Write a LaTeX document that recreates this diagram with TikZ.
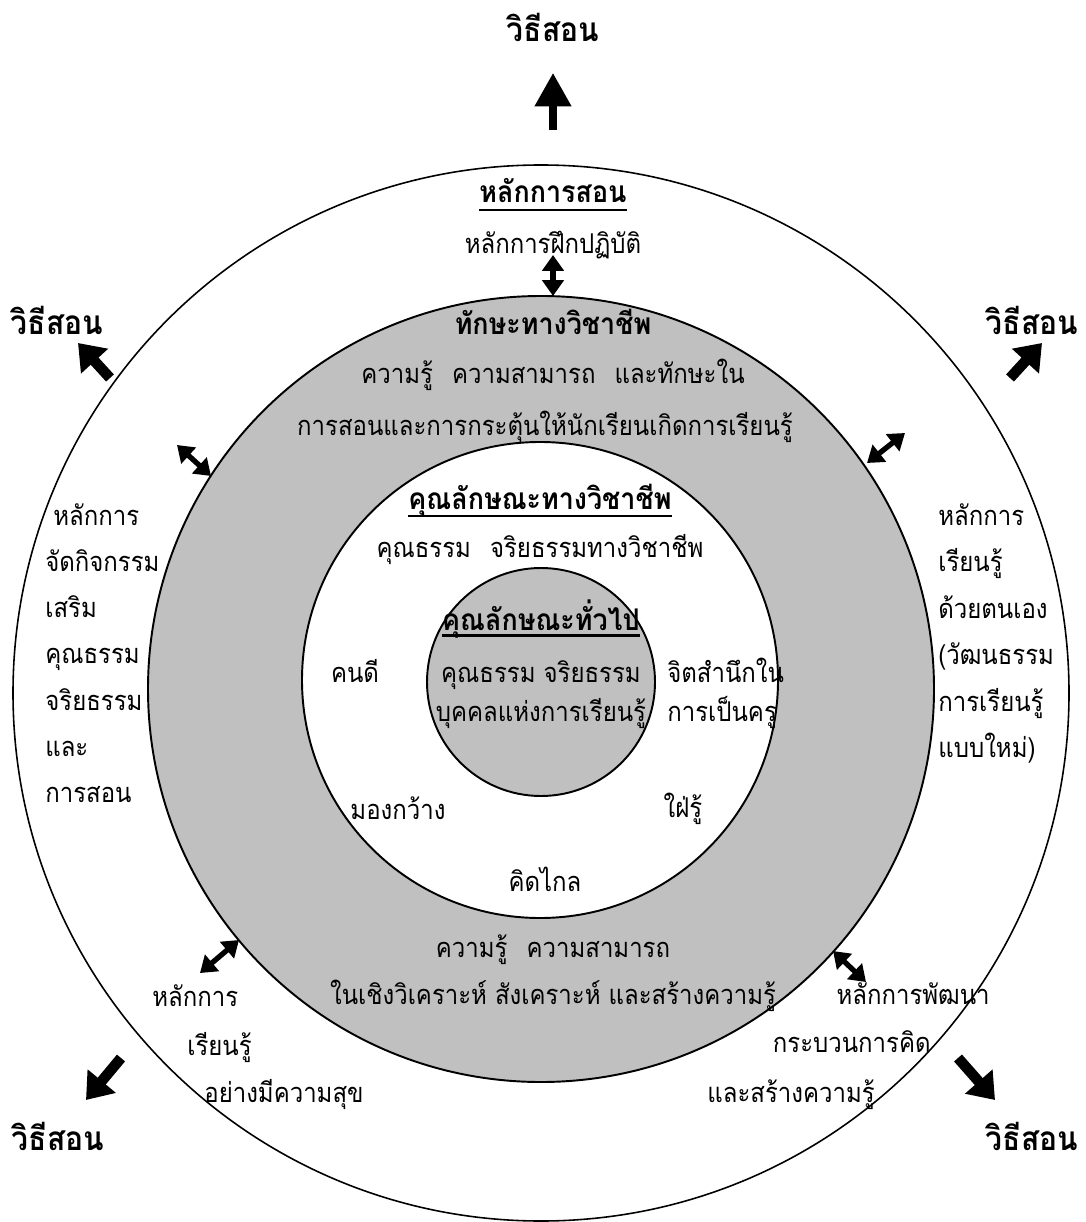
\documentclass[tikz,border=0pt]{standalone}
\usepackage{fontspec}
\newfontfamily\thaifont[Script=Thai, FakeStretch=0.88]{Loma}
\newfontfamily\thaibold[Script=Thai, FakeStretch=0.9]{Loma}
\usetikzlibrary{arrows.meta}
\definecolor{ringgray}{RGB}{192,192,192}
\newcommand{\gap}{\hspace{0.7em}}
\tikzset{
    txt/.style={font=\thaifont\fontsize{15.5}{18}\selectfont, inner sep=0pt},
    hd/.style={font=\thaibold\bfseries\fontsize{17}{20}\selectfont, inner sep=0pt},
    way/.style={font=\thaibold\bfseries\fontsize{19}{22}\selectfont, inner sep=0pt},
    bigarrow/.style={line width=4pt, -{Triangle[width=20pt,length=19pt]}},
    cornerarrow/.style={line width=6pt, -{Triangle[width=20pt,length=14pt]}},
    twoway/.style={line width=3pt, {Triangle[width=12pt,length=9pt]}-{Triangle[width=12pt,length=9pt]}},
    uline/.style={line width=1.5pt},
}
\begin{document}
\begin{tikzpicture}[x=0.02cm, y=-0.02cm]
        \useasboundingbox (0,0) rectangle (1085,1222);
        %circles
        \draw[line width=0.9pt, fill=white] (541,693) circle[radius=528];
        \draw[line width=1.1pt, fill=ringgray] (541,689) circle[radius=393];
        \draw[line width=1.1pt, fill=white] (540,680) circle[radius=238];
        \draw[line width=1.1pt, fill=ringgray] (541,682) circle[radius=114];
        %top way out
        \node[way, anchor=base] (wtop) at (553,42) {วิธีสอน};
        \coordinate (wtopa) at (553,130);
        \coordinate (wtopb) at (553,73);
        \draw[bigarrow] (wtopa) -- (wtopb);
        %corner ways out
        \node[way, anchor=base] (wul) at (57,335) {วิธีสอน};
        \node[way, anchor=base] (wur) at (1032,335) {วิธีสอน};
        \node[way, anchor=base] (wll) at (58,1150) {วิธีสอน};
        \node[way, anchor=base] (wlr) at (1032,1150) {วิธีสอน};
        \coordinate (ula) at (110,378);
        \coordinate (ulb) at (78,343);
        \coordinate (ura) at (1010,378);
        \coordinate (urb) at (1042,343);
        \coordinate (lla) at (121,1058);
        \coordinate (llb) at (86,1100);
        \coordinate (lra) at (958,1058);
        \coordinate (lrb) at (995,1100);
        \draw[cornerarrow] (ula) -- (ulb);
        \draw[cornerarrow] (ura) -- (urb);
        \draw[cornerarrow] (lla) -- (llb);
        \draw[cornerarrow] (lra) -- (lrb);
        %teaching principles
        \node[hd, anchor=base] (prin) at (553,203) {หลักการสอน};
        \draw[uline] ([yshift=-4pt]prin.base west) -- ([yshift=-4pt]prin.base east);
        \node[txt, anchor=base] (drill) at (553,254) {หลักการฝึกปฏิบัติ};
        %links to the gray ring
        \coordinate (dta) at (553,296);
        \coordinate (dtb) at (553,255);
        \coordinate (dula) at (211,476);
        \coordinate (dulb) at (177,445);
        \coordinate (dura) at (867,463);
        \coordinate (durb) at (905,433);
        \coordinate (dlla) at (239,940);
        \coordinate (dllb) at (200,973);
        \coordinate (dlra) at (833,951);
        \coordinate (dlrb) at (866,982);
        \draw[twoway] (dta) -- (dtb);
        \draw[twoway] (dula) -- (dulb);
        \draw[twoway] (dura) -- (durb);
        \draw[twoway] (dlla) -- (dllb);
        \draw[twoway] (dlra) -- (dlrb);
        %gray ring
        \node[hd, anchor=base] (skill) at (553,335) {ทักษะทางวิชาชีพ};
        \node[txt, anchor=base] (skill1) at (553,384) {ความรู้\gap ความสามารถ\gap และทักษะใน};
        \node[txt, anchor=base] (skill2) at (545,436) {การสอนและการกระตุ้นให้นักเรียนเกิดการเรียนรู้};
        \node[txt, anchor=base] (know1) at (553,957) {ความรู้\gap ความสามารถ};
        \node[txt, anchor=base] (know2) at (553,1004) {ในเชิงวิเคราะห์ สังเคราะห์ และสร้างความรู้};
        %white ring
        \node[hd, anchor=base] (prof) at (540,509) {คุณลักษณะทางวิชาชีพ};
        \draw[uline] ([yshift=-4pt]prof.base west) -- ([yshift=-4pt]prof.base east);
        \node[txt, anchor=base] (prof1) at (540,557) {คุณธรรม\gap จริยธรรมทางวิชาชีพ};
        \node[txt, anchor=base] (good) at (355,682) {คนดี};
        \node[txt, anchor=base west] (aware1) at (667,682) {จิตสำนึกใน};
        \node[txt, anchor=base west] (aware2) at (667,721) {การเป็นครู};
        \node[txt, anchor=base] (wide) at (398,819) {มองกว้าง};
        \node[txt, anchor=base] (eager) at (683,817) {ใฝ่รู้};
        \node[txt, anchor=base] (far) at (545,891) {คิดไกล};
        %center
        \node[hd, anchor=base] (gen) at (541,630) {คุณลักษณะทั่วไป};
        \draw[uline] ([yshift=-3pt]gen.base west) -- ([yshift=-3pt]gen.base east);
        \node[txt, anchor=base] (gen1) at (541,682) {คุณธรรม จริยธรรม};
        \node[txt, anchor=base] (gen2) at (541,721) {บุคคลแห่งการเรียนรู้};
        %outer ring, side columns
        \node[txt, anchor=base west] (left1) at (53,525) {หลักการ};
        \foreach \t [count=\i from 2] in {จัดกิจกรรม, เสริม, คุณธรรม, จริยธรรม, และ, การสอน}
            \node[txt, anchor=base west] (left\i) at (45,{525+(\i-1)*46.3}) {\t};
        \foreach \t [count=\i] in {หลักการ, เรียนรู้, ด้วยตนเอง, {(วัฒนธรรม}, การเรียนรู้, {แบบใหม่)}}
            \node[txt, anchor=base west] (right\i) at (938,{525+(\i-1)*46.5}) {\t};
        %outer ring, bottom
        \node[txt, anchor=base west] (happy1) at (152,1006) {หลักการ};
        \node[txt, anchor=base west] (happy2) at (187,1055) {เรียนรู้};
        \node[txt, anchor=base west] (happy3) at (204,1102) {อย่างมีความสุข};
        \node[txt, anchor=base east] (think1) at (990,1004) {หลักการพัฒนา};
        \node[txt, anchor=base east] (think2) at (931,1052) {กระบวนการคิด};
        \node[txt, anchor=base east] (think3) at (875,1102) {และสร้างความรู้};
    \end{tikzpicture}
\end{document}
